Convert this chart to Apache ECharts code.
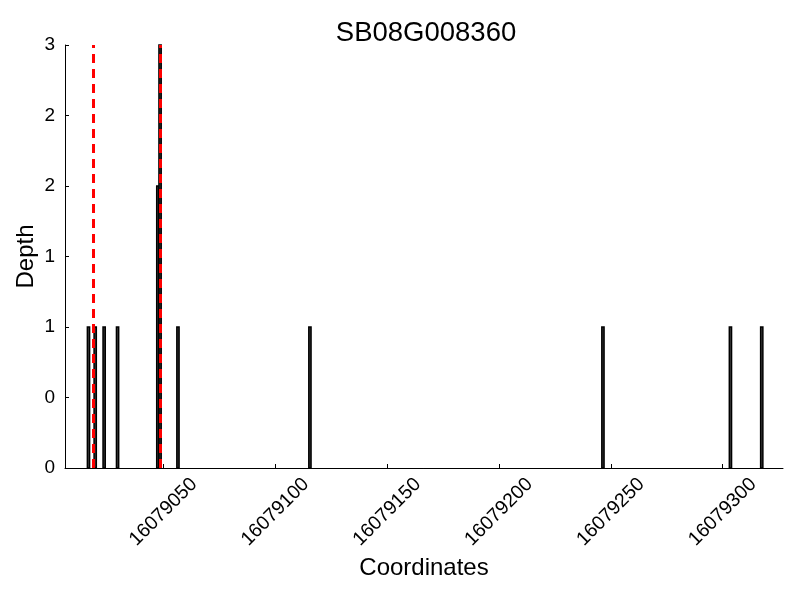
<!DOCTYPE html>
<html>
<head>
<meta charset="utf-8">
<script src="https://cdn.jsdelivr.net/npm/echarts@6/dist/echarts.min.js"></script>
<style>
  html, body { margin: 0; padding: 0; background: #fff; }
  #chart { width: 800px; height: 600px; }
</style>
</head>
<body>
<div id="chart"></div>
<script>
// read positions (left edge of each 1 bp bar) and depths
const positions = [16079016, 16079019, 16079023, 16079029, 16079047, 16079048,
                   16079056, 16079115, 16079246, 16079303, 16079317]
const depths = [1, 1, 1, 1, 2, 3, 1, 1, 1, 1, 1]
const markers = [16079018.6, 16079048.5]
const xTicks = [16079050, 16079100, 16079150, 16079200, 16079250, 16079300]
const yTickLabels = ['0', '0', '1', '1', '2', '2', '3']
const xMin = 16079006
const xMax = 16079327

const font = "'Liberation Sans', Arial, sans-serif"

const chart = echarts.init(document.getElementById('chart'))

const option = {
  animation: false,
  title: {
    text: 'SB08G008360',
    left: 421,
    top: 14,
    textAlign: 'center',
    textStyle: { fontFamily: font, fontSize: 27.5, fontWeight: 'normal', color: '#000' }
  },
  grid: { left: 65, right: 17, top: 45, bottom: 132 },
  xAxis: {
    type: 'value',
    min: xMin,
    max: xMax,
    name: 'Coordinates',
    nameLocation: 'middle',
    nameGap: 88,
    nameMoveOverlap: false,
    nameTextStyle: { fontFamily: font, fontSize: 24, color: '#000' },
    axisLine: { lineStyle: { color: '#000', width: 1 } },
    axisTick: { inside: true, length: 4, customValues: xTicks, lineStyle: { color: '#000' } },
    axisLabel: {
      customValues: xTicks,
      rotate: 45,
      align: 'center',
      verticalAlign: 'middle',
      margin: 44,
      fontFamily: font,
      fontSize: 19.5,
      color: '#000',
      formatter: v => String(v)
    },
    splitLine: { show: false }
  },
  yAxis: {
    type: 'value',
    min: 0,
    max: 3,
    interval: 0.5,
    name: 'Depth',
    nameLocation: 'middle',
    nameGap: 27,
    nameMoveOverlap: false,
    nameTextStyle: { fontFamily: font, fontSize: 24, color: '#000' },
    axisLine: { show: true, lineStyle: { color: '#000', width: 1 } },
    axisTick: { show: true, inside: true, length: 4, lineStyle: { color: '#000' } },
    axisLabel: {
      margin: 10,
      fontFamily: font,
      fontSize: 19,
      color: '#000',
      formatter: v => yTickLabels[Math.round(v / 0.5)]
    },
    splitLine: { show: false }
  },
  series: [{
    type: 'custom',
    data: positions.map((p, i) => [p, depths[i]]),
    encode: { x: 0, y: 1 },
    renderItem: function (params, api) {
      const x = api.value(0)
      const d = api.value(1)
      const p0 = api.coord([x, 0])
      const p1 = api.coord([x + 1, d])
      return {
        type: 'rect',
        shape: { x: p0[0], y: p1[1], width: p1[0] - p0[0], height: p0[1] - p1[1] },
        style: { fill: '#404040', stroke: '#000', lineWidth: 1.5 }
      }
    },
    markLine: {
      silent: true,
      symbol: ['none', 'none'],
      label: { show: false },
      lineStyle: { color: '#ff0000', width: 3, type: [9, 6] },
      data: markers.map(m => ({ xAxis: m }))
    }
  }]
}

chart.setOption(option)
</script>
</body>
</html>
